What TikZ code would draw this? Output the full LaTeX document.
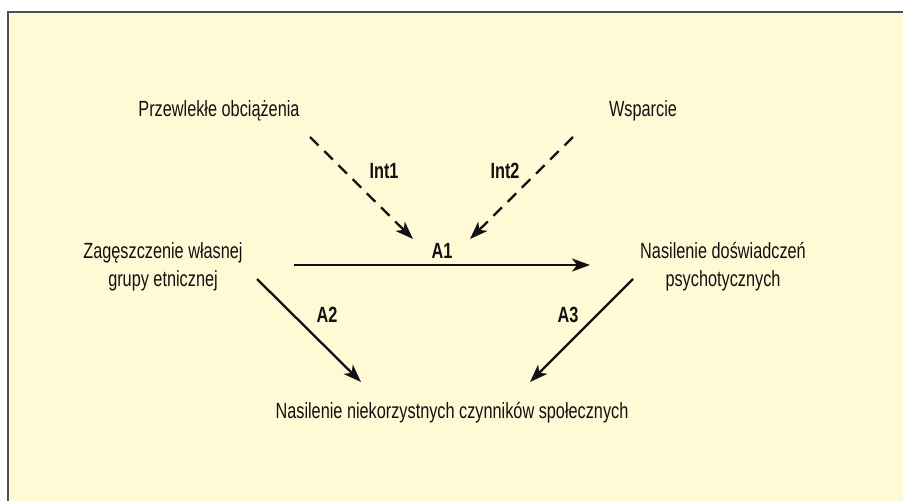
\documentclass[tikz,border=0pt]{standalone}
\usepackage{fontspec}
\setmainfont{Liberation Sans}[FakeStretch=0.74]
\usetikzlibrary{arrows.meta}
\definecolor{bgyellow}{HTML}{FFF9D6}
\definecolor{framegray}{HTML}{505050}
\definecolor{ink}{HTML}{111111}
\begin{document}
\begin{tikzpicture}[x=1pt,y=-1pt,
  lbl/.style={font=\fontsize{22}{28}\selectfont, text=ink, inner sep=0pt, align=center},
  tag/.style={font=\fontsize{22}{28}\selectfont\bfseries, text=ink, inner sep=0pt},
  arr/.style={ink, line width=2.3pt, -{Stealth[length=18pt,width=13pt,inset=5pt]}},
  darr/.style={arr, dash pattern=on 12pt off 8pt}]
\useasboundingbox (0,0) rectangle (903,501);
\clip (0,0) rectangle (903,501);
\fill[white] (0,0) rectangle (903,501);
\draw[framegray, fill=bgyellow, line width=1.5pt] (8,12) rectangle (930,530);

\node[lbl, anchor=base] (prz) at (219,116) {Przewlekłe obciążenia};
\node[lbl, anchor=base] (wsp) at (643,116) {Wsparcie};
\node[lbl, anchor=base] (zag) at (163,286) {Zagęszczenie własnej\\grupy etnicznej};
\node[lbl, anchor=base] (nas) at (723,286) {Nasilenie doświadczeń\\psychotycznych};
\node[lbl, anchor=base] (czy) at (452,418) {Nasilenie niekorzystnych czynników społecznych};

\node[tag, anchor=base] (int1) at (384,178) {Int1};
\node[tag, anchor=base] (int2) at (505,178) {Int2};
\node[tag, anchor=base] (la1) at (442,258) {A1};
\node[tag, anchor=base] (la2) at (327,322) {A2};
\node[tag, anchor=base] (la3) at (568,322) {A3};

\coordinate (i1s) at (310,137);
\coordinate (i1e) at (413,239);
\coordinate (i2s) at (573,137);
\coordinate (i2e) at (470,239);
\coordinate (a1s) at (294,265);
\coordinate (a1e) at (590,265);
\coordinate (a2s) at (257,279);
\coordinate (a2e) at (361,382);
\coordinate (a3s) at (633,279);
\coordinate (a3e) at (530,382);

\draw[darr] (i1s) -- (i1e);
\draw[darr] (i2s) -- (i2e);
\draw[arr] (a1s) -- (a1e);
\draw[arr] (a2s) -- (a2e);
\draw[arr] (a3s) -- (a3e);
\end{tikzpicture}
\end{document}
